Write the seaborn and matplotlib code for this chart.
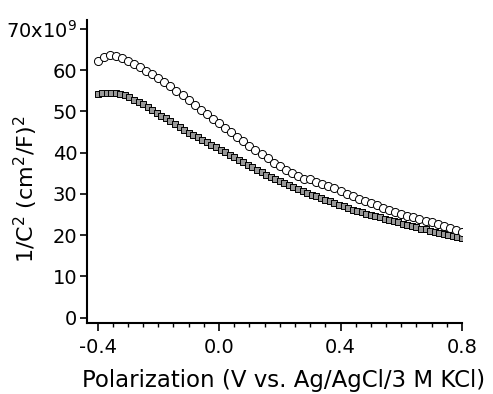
import matplotlib
matplotlib.use('Agg')
import matplotlib.pyplot as plt
from matplotlib.ticker import MultipleLocator, FixedLocator
import seaborn as sns

# 1/C^2 in units of 1e9 (cm^2/F)^2, potential in V vs Ag/AgCl/3 M KCl
circle_v = [
    -0.40, -0.38, -0.36, -0.34, -0.32, -0.30, -0.28, -0.26, -0.24, -0.22,
    -0.20, -0.18, -0.16, -0.14, -0.12, -0.10, -0.08, -0.06, -0.04, -0.02,
    0.00, 0.02, 0.04, 0.06, 0.08, 0.10, 0.12, 0.14, 0.16, 0.18,
    0.20, 0.22, 0.24, 0.26, 0.28, 0.30, 0.32, 0.34, 0.36, 0.38,
    0.40, 0.42, 0.44, 0.46, 0.48, 0.50, 0.52, 0.54, 0.56, 0.58,
    0.60, 0.62, 0.64, 0.66, 0.68, 0.70, 0.72, 0.74, 0.76, 0.78, 0.80,
]
circle_c2 = [
    62.2, 63.2, 63.6, 63.5, 62.9, 62.3, 61.6, 60.8, 59.9, 59.0,
    58.1, 57.2, 56.1, 55.0, 53.9, 52.7, 51.5, 50.4, 49.3, 48.2,
    47.2, 46.1, 45.0, 43.9, 42.8, 41.7, 40.7, 39.7, 38.6, 37.6,
    36.7, 35.8, 35.0, 34.3, 33.7, 33.5, 32.9, 32.4, 31.9, 31.4,
    30.7, 30.0, 29.4, 28.8, 28.2, 27.7, 27.2, 26.7, 26.2, 25.7,
    25.2, 24.7, 24.3, 23.9, 23.5, 23.1, 22.7, 22.3, 21.8, 21.3, 20.7,
]

square_v = [
    -0.400, -0.385, -0.370, -0.355, -0.340, -0.325, -0.310, -0.295, -0.280, -0.265,
    -0.250, -0.235, -0.220, -0.205, -0.190, -0.175, -0.160, -0.145, -0.130, -0.115,
    -0.100, -0.085, -0.070, -0.055, -0.040, -0.025, -0.010, 0.005, 0.020, 0.035,
    0.050, 0.065, 0.080, 0.095, 0.110, 0.125, 0.140, 0.155, 0.170, 0.185,
    0.200, 0.215, 0.230, 0.245, 0.260, 0.275, 0.290, 0.305, 0.320, 0.335,
    0.350, 0.365, 0.380, 0.395, 0.410, 0.425, 0.440, 0.455, 0.470, 0.485,
    0.500, 0.515, 0.530, 0.545, 0.560, 0.575, 0.590, 0.605, 0.620, 0.635,
    0.650, 0.665, 0.680, 0.695, 0.710, 0.725, 0.740, 0.755, 0.770, 0.785, 0.800,
]
square_c2 = [
    54.3, 54.5, 54.6, 54.6, 54.5, 54.2, 53.9, 53.4, 52.9, 52.3,
    51.7, 51.1, 50.4, 49.7, 49.0, 48.3, 47.6, 46.9, 46.2, 45.5,
    44.9, 44.3, 43.7, 43.1, 42.5, 41.9, 41.3, 40.7, 40.1, 39.5,
    38.9, 38.3, 37.7, 37.1, 36.5, 35.9, 35.3, 34.7, 34.1, 33.6,
    33.1, 32.6, 32.1, 31.6, 31.1, 30.6, 30.2, 29.8, 29.4, 29.0,
    28.6, 28.2, 27.8, 27.4, 27.0, 26.6, 26.2, 25.9, 25.5, 25.2,
    24.9, 24.6, 24.3, 24.0, 23.7, 23.4, 23.1, 22.8, 22.5, 22.2,
    21.9, 21.6, 21.4, 21.1, 20.8, 20.6, 20.3, 20.1, 19.8, 19.6, 19.3,
]

y_ticks = [0, 10, 20, 30, 40, 50, 60, 70]
y_ticklabels = ['0', '10', '20', '30', '40', '50', '60', r'70x10$^{9}$']
x_ticks = [-0.4, 0.0, 0.4, 0.8]
x_ticklabels = ['-0.4', '0.0', '0.4', '0.8']

sns.set_style('ticks')
plt.rcParams['font.family'] = ['DejaVu Sans']

fig = plt.figure(figsize=(4.93, 3.94), dpi=100)
ax = fig.add_axes([0.1765, 0.1802, 0.7606, 0.769])

sns.scatterplot(x=square_v, y=square_c2, marker='s', s=22, facecolor='0.6',
                edgecolor='black', linewidth=0.7, ax=ax, zorder=2)
sns.scatterplot(x=circle_v, y=circle_c2, marker='o', s=34, facecolor='white',
                edgecolor='black', linewidth=0.7, ax=ax, zorder=3)

ax.set_xlim(-0.4346, 0.8)
ax.set_ylim(-1.33, 72.2)
ax.xaxis.set_major_locator(FixedLocator(x_ticks))
ax.xaxis.set_minor_locator(MultipleLocator(0.05))
ax.set_xticklabels(x_ticklabels)
ax.set_yticks(y_ticks)
ax.set_yticklabels(y_ticklabels)

for side in ['top', 'right']:
    ax.spines[side].set_visible(False)
for side in ['left', 'bottom']:
    ax.spines[side].set_linewidth(1.5)
    ax.spines[side].set_color('black')

ax.tick_params(axis='both', which='major', labelsize=14, colors='black',
               width=1.2)
ax.tick_params(axis='x', which='major', length=6, pad=5)
ax.tick_params(axis='y', which='major', length=5, pad=2)
ax.tick_params(axis='x', which='minor', width=1.0, length=3, colors='black')
ax.tick_params(axis='y', which='minor', left=False)

ax.set_xlabel('Polarization (V vs. Ag/AgCl/3 M KCl)', fontsize=16.5, color='black')
ax.set_ylabel(r'1/C$^2$ (cm$^2$/F)$^2$', fontsize=16, color='black')
ax.xaxis.set_label_coords(0.525, -0.152)
ax.yaxis.set_label_coords(-0.125, 0.442)

fig.savefig('out.png', dpi=100)
